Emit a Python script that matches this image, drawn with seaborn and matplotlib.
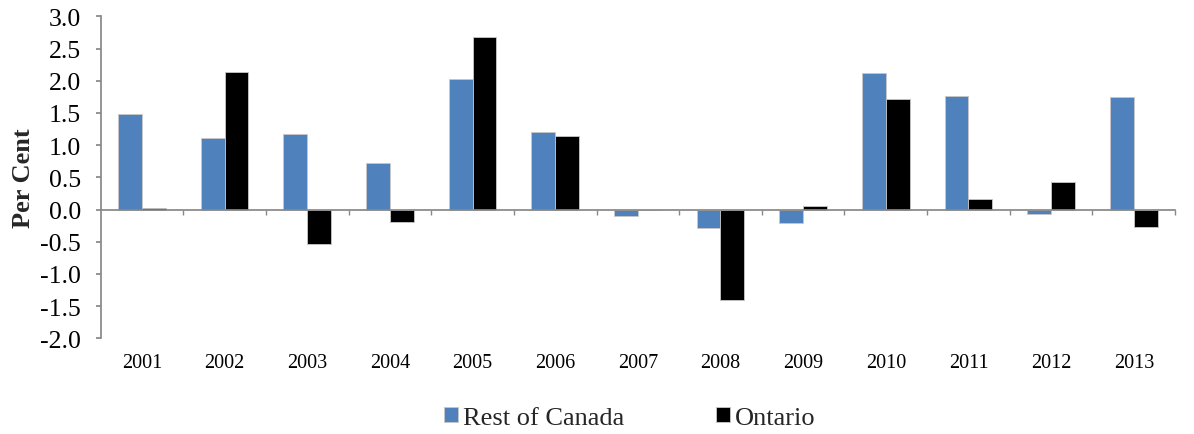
import numpy as np
import pandas as pd
import matplotlib
matplotlib.use("Agg")
import matplotlib.pyplot as plt
import seaborn as sns

years = ["2001", "2002", "2003", "2004", "2005", "2006", "2007",
         "2008", "2009", "2010", "2011", "2012", "2013"]
rest_of_canada = [1.48, 1.11, 1.18, 0.72, 2.02, 1.21, -0.10,
                  -0.28, -0.21, 2.12, 1.77, -0.07, 1.75]
ontario = [0.02, 2.13, -0.54, -0.20, 2.68, 1.14, 0.00,
           -1.40, 0.05, 1.71, 0.16, 0.42, -0.27]
series_names = ["Rest of Canada", "Ontario"]
colors = ["#4F81BD", "#000000"]
yticks = [-2.0, -1.5, -1.0, -0.5, 0.0, 0.5, 1.0, 1.5, 2.0, 2.5, 3.0]

df = pd.DataFrame({
    "Year": years * 2,
    "Value": rest_of_canada + ontario,
    "Series": [series_names[0]] * len(years) + [series_names[1]] * len(years),
})

sns.set_theme(style="white")
plt.rcParams["font.family"] = ["Liberation Serif", "DejaVu Serif"]
plt.rcParams["axes.unicode_minus"] = False
FAM = ["Liberation Serif", "DejaVu Serif"]

fig = plt.figure(figsize=(11.94, 4.35), dpi=100)
ax = fig.add_axes([0.0842, 0.22, 0.900, 0.7402])

sns.barplot(data=df, x="Year", y="Value", hue="Series", hue_order=series_names,
            palette=colors, saturation=1, width=0.577, gap=0, ax=ax,
            edgecolor="#C8C8C8", linewidth=0.6, legend=True)

ax.set_ylim(-2.0, 3.0)
ax.set_xlim(-0.5, len(years) - 0.5)
ax.set_yticks(yticks)
ax.set_yticklabels([f"{v:.1f}" for v in yticks], fontsize=18.5, family=FAM)
ax.set_ylabel("Per Cent", fontsize=19, fontweight="bold", labelpad=4, family=FAM)
ax.set_xlabel("")

for s in ["top", "right"]:
    ax.spines[s].set_visible(False)
ax.spines["left"].set_color("#888888")
ax.spines["bottom"].set_color("#888888")
ax.spines["bottom"].set_position(("data", 0))
ax.tick_params(axis="y", which="major", direction="out", length=3.6, color="#888888",
               left=True, pad=10.5, labelcolor="black")
ax.set_xticks(np.arange(len(years)))
ax.set_xticklabels(years, fontsize=14.5, family=FAM)
ax.tick_params(axis="x", which="major", length=0, pad=103, labelcolor="black")
ax.set_xticks(np.arange(len(years)) + 0.5, minor=True)
ax.tick_params(axis="x", which="minor", direction="out", length=3.6, color="#888888",
               bottom=True)

leg = ax.get_legend()
handles, labels = ax.get_legend_handles_labels()
leg.remove()
fig.legend(handles, labels, loc="center", bbox_to_anchor=(0.5276, 0.036),
           ncol=2, frameon=False, prop={"family": FAM, "size": 19},
           handlelength=0.5, handleheight=0.5,
           handletextpad=0.2, columnspacing=3.5)

fig.savefig("out.png", dpi=100)
